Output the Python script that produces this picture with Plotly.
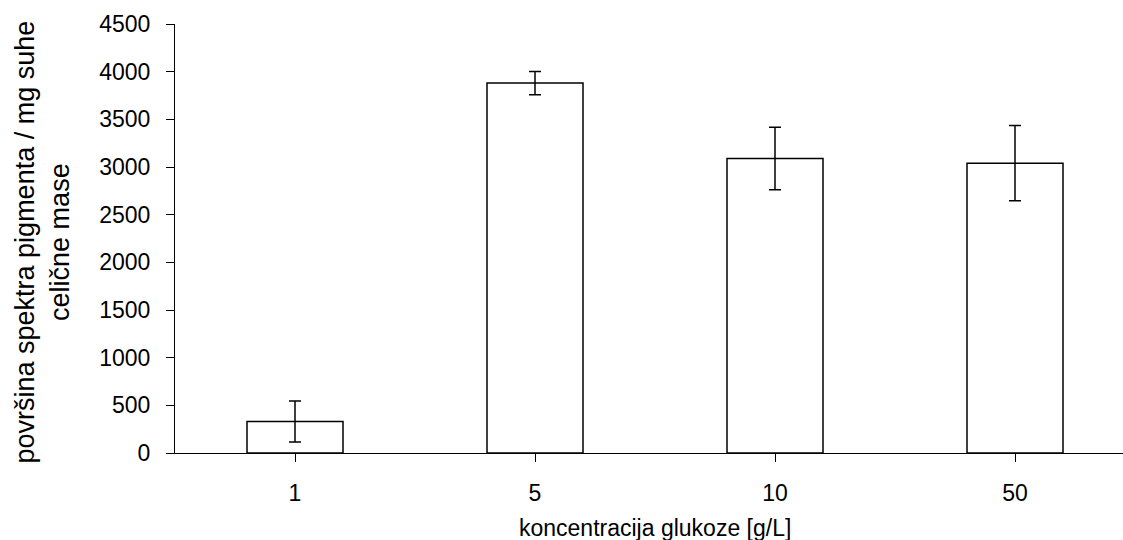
import plotly.graph_objects as go

# glucose concentration categories and measured pigment area per mg dry cell mass
categories = ["1", "5", "10", "50"]
values = [330, 3880, 3090, 3040]
errors = [215, 122, 328, 395]
y_ticks = [0, 500, 1000, 1500, 2000, 2500, 3000, 3500, 4000, 4500]

FONT = "Arial, Liberation Sans, sans-serif"
SIZE = 23

fig = go.Figure()
fig.add_trace(go.Bar(
    x=list(range(len(categories))),
    y=values,
    width=0.4,
    marker=dict(color="white", line=dict(color="black", width=1.5)),
    error_y=dict(type="data", array=errors, visible=True,
                 color="black", thickness=1.5, width=6),
    showlegend=False,
))

fig.update_layout(
    width=1123, height=540,
    margin=dict(l=175, r=0, t=24, b=87),
    plot_bgcolor="white", paper_bgcolor="white",
    font=dict(family=FONT, size=SIZE, color="black"),
    xaxis=dict(
        range=[-0.5, 3.45],
        tickmode="array",
        tickvals=list(range(len(categories))),
        ticktext=categories,
        tickson="boundaries",
        ticks="outside", ticklen=8, tickcolor="black", tickwidth=1,
        showline=True, linecolor="black", linewidth=1,
        showgrid=False, zeroline=False,
        tickfont=dict(size=SIZE),
        ticklabelstandoff=11,
    ),
    yaxis=dict(
        range=[0, 4500],
        tickmode="array",
        tickvals=y_ticks,
        ticks="outside", ticklen=8, tickcolor="black", tickwidth=1,
        showline=True, linecolor="black", linewidth=1,
        showgrid=False, zeroline=False,
        tickfont=dict(size=SIZE),
        ticklabelstandoff=11,
    ),
    annotations=[
        dict(text="koncentracija glukoze [g/L]", x=1.5, xref="x",
             y=0, yref="paper", yshift=-75, yanchor="middle",
             showarrow=False, font=dict(size=SIZE)),
        dict(text="površina spektra pigmenta / mg suhe<br>celične mase",
             x=0, xref="paper", xshift=-133, xanchor="center",
             y=0.5, yref="paper", yanchor="middle", yshift=-4,
             textangle=-90, showarrow=False, font=dict(size=27)),
    ],
)

fig.write_html("out.html")
